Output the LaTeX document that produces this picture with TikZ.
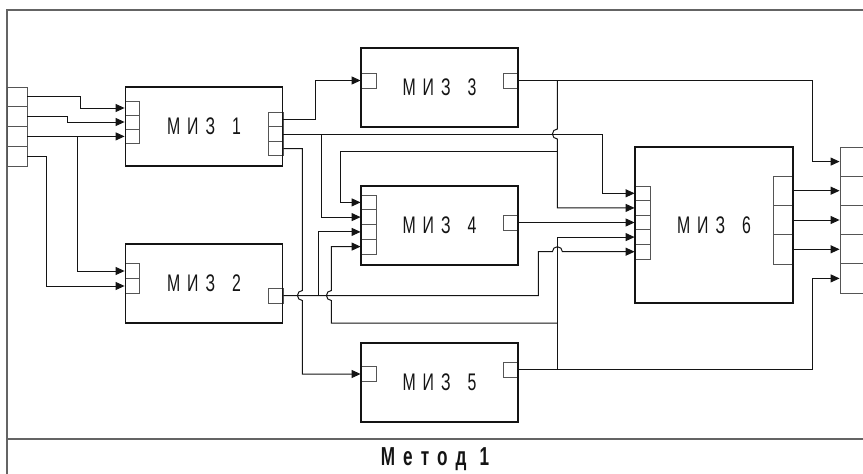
\documentclass[tikz,border=0pt]{standalone}
\usepackage{fontspec}
\newfontfamily\mizfont[FakeStretch=0.66]{Liberation Sans}
\usetikzlibrary{positioning,arrows.meta,calc}
\definecolor{mizInk}{RGB}{20,20,20}
\definecolor{mizPort}{RGB}{85,85,85}
\definecolor{mizFrame}{RGB}{100,100,100}

\begin{document}
\begin{tikzpicture}[
    x=1pt, y=-1pt,
    miz node/.style={rectangle, draw=mizInk, line width=1.5pt, outer sep=0pt, minimum width=157pt, minimum height=79pt, inner sep=0pt, font=\mizfont\fontsize{24}{24}\selectfont, text=mizInk},
    port node/.style={rectangle, draw=mizPort, line width=0.8pt, minimum width=15pt, minimum height=14.7pt, inner sep=0pt},
    term node/.style={rectangle, draw=mizPort, line width=0.8pt, minimum width=20pt, minimum height=19.75pt, inner sep=0pt},
    out term/.style={term node, minimum width=40pt, minimum height=29.2pt},
    link/.style={draw=mizInk, line width=1pt},
    arrow link/.style={link, -{Triangle[length=9pt,width=8pt]}},
    frame line/.style={draw=mizFrame, line width=1.3pt},
    caption/.style={font=\mizfont\bfseries\fontsize{26}{26}\selectfont, text=mizInk}
]
  \clip (0,0) rectangle (863,474);

  % frame
  \draw[frame line] (7,10) rectangle (880,490);
  \draw[frame line] (7,439) -- (880,439);
  \node[caption] (method) at (435,459) {М\hspace{8pt}е\hspace{8pt}т\hspace{8pt}о\hspace{8pt}д\hspace{13pt}1};

  % terminals
  \node[term node] (t1) at (17,96.9) {};
  \node[term node] (t2) at (17,116.6) {};
  \node[term node] (t3) at (17,136.4) {};
  \node[term node] (t4) at (17,156.1) {};
  \node[out term] (r1) at (860,161.6) {};
  \node[out term] (r2) at (860,190.8) {};
  \node[out term] (r3) at (860,220) {};
  \node[out term] (r4) at (860,249.2) {};
  \node[out term] (r5) at (860,278.4) {};

  % ports
  \node[port node, minimum width=14pt, minimum height=14pt] (m1i1) at (132,108) {};
  \node[port node, minimum width=14pt, minimum height=14pt] (m1i2) at (132,122) {};
  \node[port node, minimum width=14pt, minimum height=14pt] (m1i3) at (132,136) {};
  \node[port node] (m1o1) at (275.5,119.5) {};
  \node[port node] (m1o2) at (275.5,134) {};
  \node[port node] (m1o3) at (275.5,148.5) {};
  \node[port node, minimum width=14pt, minimum height=15pt] (m2i1) at (132,271) {};
  \node[port node, minimum width=14pt, minimum height=15pt] (m2i2) at (132,286) {};
  \node[port node, minimum height=15pt] (m2o) at (275.5,295.5) {};
  \node[port node, minimum height=15pt] (m3i) at (368.5,80.5) {};
  \node[port node, minimum height=15pt] (m3o) at (510.5,80.5) {};
  \node[port node] (m4i1) at (368.5,202.4) {};
  \node[port node] (m4i2) at (368.5,217.1) {};
  \node[port node] (m4i3) at (368.5,231.9) {};
  \node[port node] (m4i4) at (368.5,246.6) {};
  \node[port node, minimum height=15pt] (m4o) at (510.5,222.5) {};
  \node[port node, minimum height=15pt] (m5i) at (368.5,374) {};
  \node[port node, minimum height=15pt] (m5o) at (510.5,369.5) {};
  \node[port node, minimum height=14.6pt] (m6i1) at (642.5,193.3) {};
  \node[port node, minimum height=14.6pt] (m6i2) at (642.5,207.9) {};
  \node[port node, minimum height=14.6pt] (m6i3) at (642.5,222.5) {};
  \node[port node, minimum height=14.6pt] (m6i4) at (642.5,237.1) {};
  \node[port node, minimum height=14.6pt] (m6i5) at (642.5,251.7) {};
  \node[port node, minimum width=20pt, minimum height=29.3pt] (m6o1) at (783,190.7) {};
  \node[port node, minimum width=20pt, minimum height=29.3pt] (m6o2) at (783,220) {};
  \node[port node, minimum width=20pt, minimum height=29.3pt] (m6o3) at (783,249.3) {};

  % modules
  \node[miz node] (miz1) at (204,126.5) {М\hspace{7pt}И\hspace{7pt}З\hspace{17pt}1};
  \node[miz node] (miz2) [below=78pt of miz1] {М\hspace{7pt}И\hspace{7pt}З\hspace{17pt}2};
  \node[miz node] (miz3) at (439.5,87.5) {М\hspace{7pt}И\hspace{7pt}З\hspace{17pt}3};
  \node[miz node] (miz4) [below=59pt of miz3] {М\hspace{7pt}И\hspace{7pt}З\hspace{17pt}4};
  \node[miz node] (miz5) [below=78pt of miz4] {М\hspace{7pt}И\hspace{7pt}З\hspace{17pt}5};
  \node[miz node, minimum width=158pt, minimum height=156pt] (miz6) at (714,225) {М\hspace{7pt}И\hspace{7pt}З\hspace{17pt}6};

  % inputs
  \draw[arrow link] (t1.east) -- ++(53,0) |- (m1i1.west);
  \draw[arrow link] (t2.east) -- ++(40,0) |- (m1i2.west);
  \draw[arrow link] (t3.east) -- (t3.east -| m1i3.west);
  \coordinate (b3) at ($(t3.east)+(50,0)$);
  \draw[arrow link] (b3) |- (m2i1.west);
  \draw[arrow link] (t4.east) -- ++(19,0) |- (m2i2.west);

  % miz1 outputs
  \draw[arrow link] (m1o1.east) -- ++(32,0) |- (m3i.west);
  \draw[arrow link] (m1o2.east) -- ++(319,0) |- (m6i1.west);
  \draw[arrow link] ($(m1o2.east)+(38,0)$) |- (m4i2.west);
  \draw[arrow link] (m1o3.east) -- ++(19,0) -- ++(0,142) arc[start angle=90, end angle=270, radius=5pt] |- (m5i.west);

  % miz3 output
  \draw[arrow link] (m3o.east) -- ++(294,0) |- (r1.west);
  \draw[arrow link] ($(m3o.east)+(39,0)$) -- ++(0,48.5) arc[start angle=90, end angle=270, radius=5pt] |- (m6i2.west);
  \coordinate (j1) at ($(m3o.east)+(39,70.5)$);
  \draw[arrow link] (j1) -| ($(m4i1.west)+(-20,0)$) -- (m4i1.west);

  % miz4 output
  \draw[arrow link] (m4o.east) -- (m6i3.west);

  % miz2 output
  \draw[arrow link] (m2o.east) -- ++(255,0) -- ++(0,-43.8) -- ++(14,0) arc[start angle=180, end angle=0, radius=5pt] -- (m6i5.west);
  \draw[arrow link] ($(m2o.east)+(35,0)$) |- (m4i3.west);

  % miz5 output
  \draw[arrow link] (m5o.east) -- ++(294,0) |- (r5.west);
  \draw[arrow link] ($(m5o.east)+(39,0)$) |- (m6i4.west);
  \draw[arrow link] ($(m5o.east)+(39,-46.5)$) -- ++(-226,0) -- ++(0,-22.5) arc[start angle=270, end angle=90, radius=5pt] |- (m4i4.west);

  % miz6 outputs
  \draw[arrow link] (m6o1.east) -- (m6o1.east -| r2.west);
  \draw[arrow link] (m6o2.east) -- (m6o2.east -| r3.west);
  \draw[arrow link] (m6o3.east) -- (m6o3.east -| r4.west);
\end{tikzpicture}
\end{document}
